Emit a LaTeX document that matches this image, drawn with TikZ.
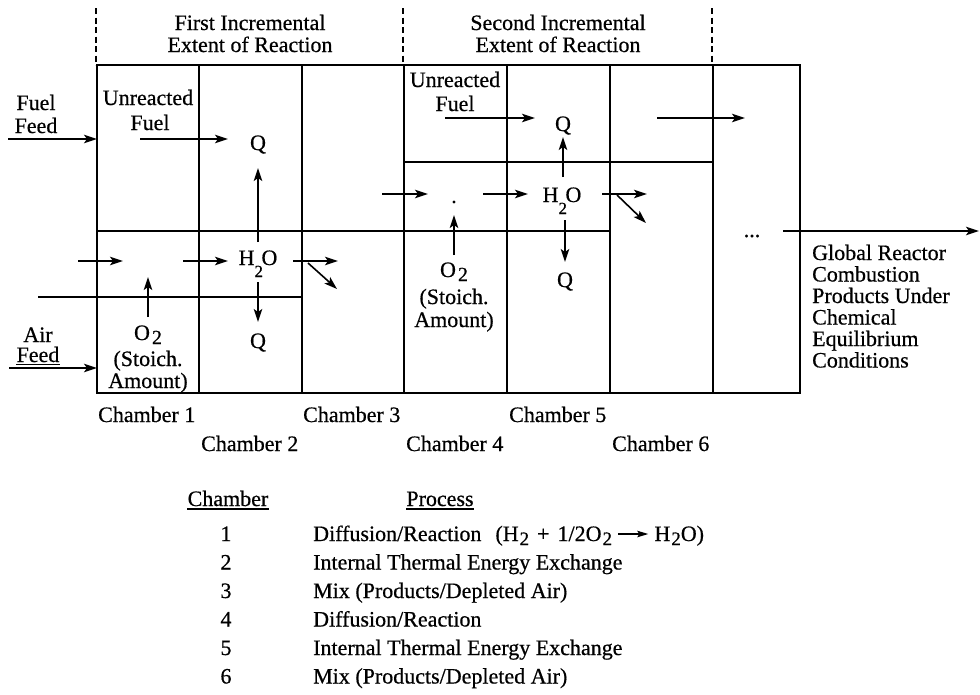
\documentclass[tikz,border=0pt]{standalone}
\usepackage{fontspec}
\setmainfont{Liberation Serif}
\newfontfamily\scanf{Liberation Serif}[FakeBold=0.6]
\usetikzlibrary{arrows.meta,calc}
\newcommand\lbf{\scanf\fontsize{22}{22}\selectfont}
\newcommand\subf{\fontsize{17}{17}\selectfont}
\newcommand\wat{H\raisebox{-12pt}{\subf 2}\kern-1.5pt O}
\newcommand\oxy{O\kern2pt\raisebox{-4pt}{\fontsize{20}{20}\selectfont 2}}
\newcommand\tsub[1]{\kern1pt\raisebox{-4pt}{\fontsize{19}{19}\selectfont #1}}
\begin{document}
\begin{tikzpicture}[x=1pt,y=-1pt,
  lbl/.style={font=\lbf,inner sep=0pt,anchor=base},
  lblw/.style={font=\lbf,inner sep=0pt,anchor=base west},
  arr/.style={-{Stealth[length=13pt,width=8.5pt,inset=3pt]},line width=1.6pt},
  wall/.style={line width=1.9pt},
  divline/.style={line width=1.9pt,dash pattern=on 6pt off 3.5pt}]
\useasboundingbox (0,0) rectangle (980,694);

% dashed stage dividers
\draw[divline] (96,8) -- (96,65);
\draw[divline] (403,8) -- (403,65);
\draw[divline] (712,8) -- (712,65);

% stage titles
\node[lbl] (t1a) at (250,30) {First Incremental};
\node[lbl] (t1b) at (250,52) {Extent of Reaction};
\node[lbl] (t2a) at (558,30) {Second Incremental};
\node[lbl] (t2b) at (558,52) {Extent of Reaction};

% reactor box and walls
\draw[wall] (97,65) rectangle (800,393);
\foreach \x in {199,302,404,507,610,713} \draw[wall] (\x,65) -- (\x,393);
\draw[wall] (97,231) -- (610,231);
\draw[wall] (38,297) -- (302,297);
\draw[wall] (404,162) -- (713,162);

% feeds
\node[lbl] (ff1) at (36,110) {Fuel};
\node[lbl] (ff2) at (36,133) {Feed};
\coordinate (ffs) at (8,139);
\coordinate (ffe) at (97,139);
\draw[arr] (ffs) -- (ffe);

\node[lbl] (af1) at (38,342) {Air};
\node[lbl] (af2) at (38,362) {Feed};
\draw[line width=1.1pt] ([yshift=-2.5pt]af2.base west) -- ([yshift=-2.5pt]af2.base east);
\coordinate (afs) at (9,368);
\coordinate (afe) at (97,368);
\draw[arr] (afs) -- (afe);

% ---- first stage
\node[lbl] (uf1a) at (148,105) {Unreacted};
\node[lbl] (uf1b) at (150,130) {Fuel};
\coordinate (a1s) at (140,139);
\coordinate (a1e) at (228,139);
\draw[arr] (a1s) -- (a1e);
\node[lbl] (q1) at (258,150) {Q};
\node[lbl] (w1) at (258,265) {\wat};
\coordinate (u1s) at (258,242);
\coordinate (u1e) at (258,168);
\draw[arr] (u1s) -- (u1e);
\coordinate (d1s) at (258,282);
\coordinate (d1e) at (258,322);
\draw[arr] (d1s) -- (d1e);
\node[lbl] (q1b) at (258,348) {Q};

\coordinate (m1s) at (78,261);
\coordinate (m1e) at (123,261);
\draw[arr] (m1s) -- (m1e);
\coordinate (m2s) at (183,261);
\coordinate (m2e) at (228,261);
\draw[arr] (m2s) -- (m2e);
\coordinate (m3s) at (293,261);
\coordinate (m3e) at (338,261);
\draw[arr] (m3s) -- (m3e);
\coordinate (g1s) at (308,263);
\coordinate (g1e) at (337,289);
\draw[arr] (g1s) -- (g1e);

\coordinate (o1s) at (148,317);
\coordinate (o1e) at (148,277);
\draw[arr] (o1s) -- (o1e);
\node[lbl] (ox1) at (148,340) {\oxy};
\node[lbl] (st1) at (148,366) {(Stoich.};
\node[lbl] (am1) at (148,388) {Amount)};

% ---- second stage
\node[lbl] (uf2a) at (455,87) {Unreacted};
\node[lbl] (uf2b) at (455,111) {Fuel};
\coordinate (a2s) at (445,118);
\coordinate (a2e) at (535,118);
\draw[arr] (a2s) -- (a2e);
\node[lbl] (q2) at (563,131) {Q};
\coordinate (u2s) at (563,177);
\coordinate (u2e) at (563,137);
\draw[arr] (u2s) -- (u2e);
\coordinate (a3s) at (657,118);
\coordinate (a3e) at (745,118);
\draw[arr] (a3s) -- (a3e);

\coordinate (n1s) at (382,194);
\coordinate (n1e) at (428,194);
\draw[arr] (n1s) -- (n1e);
\fill (454,202) circle (1.7);
\coordinate (n2s) at (483,194);
\coordinate (n2e) at (528,194);
\draw[arr] (n2s) -- (n2e);
\node[lbl] (w2) at (562,202) {\wat};
\coordinate (n3s) at (602,194);
\coordinate (n3e) at (647,194);
\draw[arr] (n3s) -- (n3e);
\coordinate (g2s) at (617,195);
\coordinate (g2e) at (646,223);
\draw[arr] (g2s) -- (g2e);
\coordinate (d2s) at (565,220);
\coordinate (d2e) at (565,262);
\draw[arr] (d2s) -- (d2e);
\node[lbl] (q2b) at (565,287) {Q};

\coordinate (o2s) at (454,255);
\coordinate (o2e) at (454,215);
\draw[arr] (o2s) -- (o2e);
\node[lbl] (ox2) at (454,277) {\oxy};
\node[lbl] (st2) at (454,304) {(Stoich.};
\node[lbl] (am2) at (454,327) {Amount)};

% ---- outlet
\node[lbl] (dots) at (752,237) {...};
\coordinate (outs) at (783,231);
\coordinate (oute) at (979,231);
\draw[arr] (outs) -- (oute);
\node[lblw] (gr1) at (812,260) {Global Reactor};
\node[lblw] (gr2) at (812,281.5) {Combustion};
\node[lblw] (gr3) at (812,303) {Products Under};
\node[lblw] (gr4) at (812,324.5) {Chemical};
\node[lblw] (gr5) at (812,346) {Equilibrium};
\node[lblw] (gr6) at (812,367.5) {Conditions};

% ---- chamber labels
\node[lblw] (c1) at (98,422) {Chamber 1};
\node[lblw] (c3) at (303,422) {Chamber 3};
\node[lblw] (c5) at (509,422) {Chamber 5};
\node[lblw] (c2) at (201,451) {Chamber 2};
\node[lblw] (c4) at (406,451) {Chamber 4};
\node[lblw] (c6) at (612,451) {Chamber 6};

% ---- table
\node[lbl] (hc) at (228,506) {Chamber};
\draw[line width=1.1pt] ([yshift=-3pt]hc.base west) -- ([yshift=-3pt]hc.base east);
\node[lbl] (hp) at (440,506) {Process};
\draw[line width=1.1pt] ([yshift=-3pt]hp.base west) -- ([yshift=-3pt]hp.base east);

\node[lbl] (n1) at (226,541) {1};
\node[lbl] (n2) at (226,569.5) {2};
\node[lbl] (n3) at (226,598) {3};
\node[lbl] (n4) at (226,626.5) {4};
\node[lbl] (n5) at (226,655) {5};
\node[lbl] (n6) at (226,683.5) {6};

\node[lblw] (p1) at (313,541) {Diffusion/Reaction\hspace{14pt}(H\tsub2\hspace{8pt}+\hspace{8pt}1/2O\tsub2};
\node[lblw] (p2) at (313,569.5) {Internal Thermal Energy Exchange};
\node[lblw] (p3) at (313,598) {Mix (Products/Depleted Air)};
\node[lblw] (p4) at (313,626.5) {Diffusion/Reaction};
\node[lblw] (p5) at (313,655) {Internal Thermal Energy Exchange};
\node[lblw] (p6) at (313,683.5) {Mix (Products/Depleted Air)};

\coordinate (ras) at ($(p1.base east)+(6,-7)$);
\coordinate (rae) at ($(p1.base east)+(36,-7)$);
\draw[-{Stealth[length=11pt,width=6.5pt,inset=2pt]},line width=1.3pt] (ras) -- (rae);
\node[lblw] (p1b) at ($(p1.base east)+(42,0)$) {H\tsub2O)};
\end{tikzpicture}
\end{document}
